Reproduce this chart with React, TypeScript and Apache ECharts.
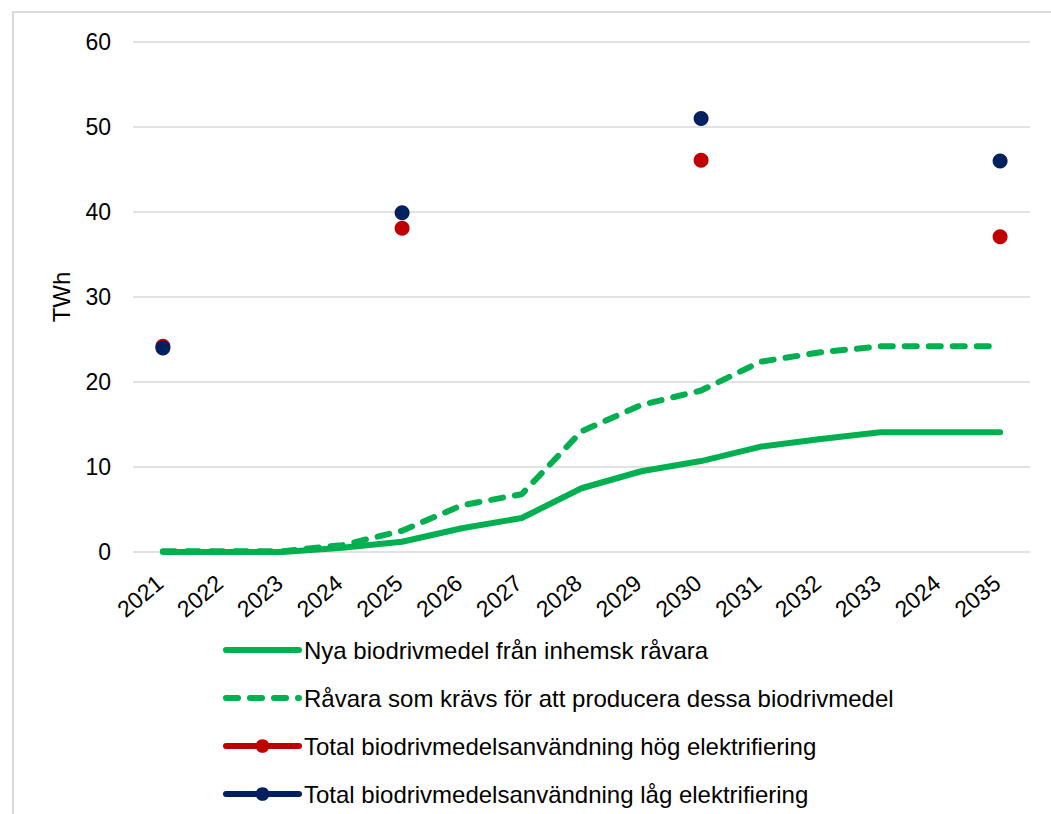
import React, { useEffect, useRef } from "react";
import * as echarts from "echarts";

const years = ["2021", "2022", "2023", "2024", "2025", "2026", "2027", "2028", "2029", "2030", "2031", "2032", "2033", "2024", "2035"];
const nyaBio = [0, 0, 0, 0.5, 1.2, 2.8, 4.0, 7.5, 9.5, 10.7, 12.4, 13.3, 14.1, 14.1, 14.1];
const ravara = [0.1, 0.1, 0.1, 0.8, 2.5, 5.5, 6.8, 14.2, 17.3, 19.0, 22.4, 23.5, 24.2, 24.2, 24.2];
const hogEl = [24.2, null, null, null, 38.1, null, null, null, null, 46.1, null, null, null, null, 37.1];
const lagEl = [24.0, null, null, null, 39.9, null, null, null, null, 51.0, null, null, null, null, 46.0];
const yTicks = [0, 10, 20, 30, 40, 50, 60];

const seriesNames = [
  "Nya biodrivmedel från inhemsk råvara",
  "Råvara som krävs för att producera dessa biodrivmedel",
  "Total biodrivmedelsanvändning hög elektrifiering",
  "Total biodrivmedelsanvändning låg elektrifiering",
];

const FONT = "Liberation Sans, Arial, sans-serif";
const GREEN = "#00B050";
const RED = "#C00000";
const BLUE = "#002060";

export default function App() {
  const ref = useRef<HTMLDivElement>(null);
  useEffect(() => {
    if (!ref.current) return;
    const chart = echarts.init(ref.current, undefined, { renderer: "svg" });
    chart.setOption({
      animation: false,
      backgroundColor: "#ffffff",
      textStyle: { fontFamily: FONT },
      graphic: [
        {
          type: "rect",
          shape: { x: 13, y: 12, width: 1200, height: 1000 },
          style: { fill: "none", stroke: "#d9d9d9", lineWidth: 2 },
          silent: true,
        },
      ],
      grid: { left: 133, right: 21, top: 42, bottom: 262, containLabel: false },
      legend: {
        orient: "vertical",
        left: 218,
        top: 633,
        height: 181,
        itemWidth: 73,
        itemHeight: 17,
        itemGap: 24,
        lineStyle: { width: 6 },
        data: [
          { name: seriesNames[0], itemStyle: { opacity: 0 }, lineStyle: { width: 6, type: "solid", cap: "round" } },
          { name: seriesNames[1], itemStyle: { opacity: 0 }, lineStyle: { width: 6, type: [12, 12], cap: "round" } },
          { name: seriesNames[2], lineStyle: { width: 6, cap: "round" } },
          { name: seriesNames[3], lineStyle: { width: 6, cap: "round" } },
        ],
        textStyle: { fontFamily: FONT, fontSize: 24, color: "#000000", padding: [0, 0, 0, 0] },
      },
      xAxis: {
        type: "category",
        data: years,
        boundaryGap: true,
        axisLine: { show: false },
        axisTick: { show: false },
        axisLabel: {
          interval: 0,
          rotate: 40,
          margin: 25,
          padding: [0, 4, 0, 0],
          fontSize: 23,
          color: "#000000",
          fontFamily: FONT,
        },
      },
      yAxis: {
        type: "value",
        min: yTicks[0],
        max: yTicks[yTicks.length - 1],
        interval: 10,
        name: "TWh",
        nameLocation: "middle",
        nameGap: 60,
        nameTextStyle: { fontSize: 24, color: "#000000", fontFamily: FONT },
        axisLine: { show: false },
        axisTick: { show: false },
        axisLabel: { fontSize: 23, color: "#000000", margin: 22, fontFamily: FONT },
        splitLine: { lineStyle: { color: "#d9d9d9", width: 1.5 } },
      },
      series: [
        {
          name: seriesNames[0],
          type: "line",
          data: nyaBio,
          symbol: "none",
          lineStyle: { color: GREEN, width: 6, cap: "round", join: "round" },
          itemStyle: { color: GREEN },
        },
        {
          name: seriesNames[1],
          type: "line",
          data: ravara,
          symbol: "none",
          lineStyle: { color: GREEN, width: 6, type: [12, 12], cap: "round", join: "round" },
          itemStyle: { color: GREEN },
        },
        {
          name: seriesNames[2],
          type: "line",
          data: hogEl,
          connectNulls: false,
          symbol: "circle",
          symbolSize: 15,
          showAllSymbol: true,
          lineStyle: { color: RED, width: 5 },
          itemStyle: { color: RED },
        },
        {
          name: seriesNames[3],
          type: "line",
          data: lagEl,
          connectNulls: false,
          symbol: "circle",
          symbolSize: 15,
          showAllSymbol: true,
          lineStyle: { color: BLUE, width: 5 },
          itemStyle: { color: BLUE },
        },
      ],
    });
    return () => chart.dispose();
  }, []);
  return (
    <div
      ref={ref}
      style={{ position: "fixed", left: 0, top: 0, width: 1051, height: 814 }}
    />
  );
}
